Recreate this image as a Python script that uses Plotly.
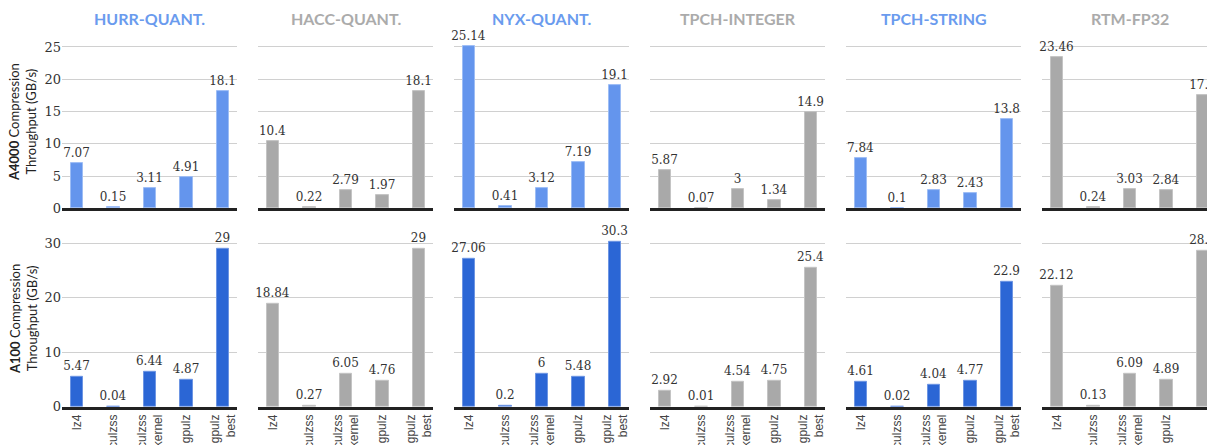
import plotly.graph_objects as go

categories = ["lz4", "culzss", "culzss<br>kernel", "gpulz", "gpulz<br>best"]
datasets = ["HURR-QUANT.", "HACC-QUANT.", "NYX-QUANT.", "TPCH-INTEGER", "TPCH-STRING", "RTM-FP32"]

a4000_hurr = [7.07, 0.15, 3.11, 4.91, 18.1]
a4000_hacc = [10.4, 0.22, 2.79, 1.97, 18.1]
a4000_nyx = [25.14, 0.41, 3.12, 7.19, 19.1]
a4000_tpch_int = [5.87, 0.07, 3, 1.34, 14.9]
a4000_tpch_str = [7.84, 0.1, 2.83, 2.43, 13.8]
a4000_rtm = [23.46, 0.24, 3.03, 2.84, 17.5]

a100_hurr = [5.47, 0.04, 6.44, 4.87, 29]
a100_hacc = [18.84, 0.27, 6.05, 4.76, 29]
a100_nyx = [27.06, 0.2, 6, 5.48, 30.3]
a100_tpch_int = [2.92, 0.01, 4.54, 4.75, 25.4]
a100_tpch_str = [4.61, 0.02, 4.04, 4.77, 22.9]
a100_rtm = [22.12, 0.13, 6.09, 4.89, 28.6]

a4000_rows = [a4000_hurr, a4000_hacc, a4000_nyx, a4000_tpch_int, a4000_tpch_str, a4000_rtm]
a100_rows = [a100_hurr, a100_hacc, a100_nyx, a100_tpch_int, a100_tpch_str, a100_rtm]

W, H = 1207, 445
BLUE_TOP = "#6495ED"
BLUE_BOT = "#2B66D5"
GRAY = "#A9A9A9"
TITLE_BLUE = "#6A9BEE"
TITLE_GRAY = "#ABABAB"

col_starts = [62, 258, 454, 650, 846, 1042]
col_w = 175
unit = 36.5
x_left = -15 / unit

row_defs = [
    dict(y0=208.3, per=32.26 / 5, rmax=27.0, dtick=5, vals=a4000_rows, color=BLUE_TOP,
         title="<b>A4000</b> Compression<br>Throughput (GB/s)", tcy=122),
    dict(y0=406.8, per=54.6 / 10, rmax=32.6, dtick=10, vals=a100_rows, color=BLUE_BOT,
         title="<b>A100</b> Compression<br>Throughput (GB/s)", tcy=319),
]

fig = go.Figure()
layout = {}
annotations = []
k = 0
for r, rd in enumerate(row_defs):
    top_px = rd["y0"] - rd["rmax"] * rd["per"]
    ydom = [1 - rd["y0"] / H, 1 - top_px / H]
    for c in range(6):
        k += 1
        xa = "x" if k == 1 else f"x{k}"
        ya = "y" if k == 1 else f"y{k}"
        start = col_starts[c]
        end = min(start + col_w, W)
        xr = [x_left, x_left + (end - start) / unit]
        color = rd["color"] if c % 2 == 0 else GRAY
        line_color = "#9dbdf5" if (c % 2 == 0 and r == 0) else ("#6d95e3" if c % 2 == 0 else "#c4c4c4")
        vals = rd["vals"][c]
        fig.add_trace(go.Bar(
            x=list(range(len(categories))), y=vals,
            xaxis=xa, yaxis=ya,
            marker=dict(color=color, line=dict(color=line_color, width=1)),
            width=0.33,
            text=[f"{v:g}" for v in vals],
            textposition="outside",
            constraintext="none",
            cliponaxis=False,
            textfont=dict(family="DejaVu Serif", size=12, color="#333333"),
            showlegend=False,
            hoverinfo="skip",
        ))
        layout["xaxis" if k == 1 else f"xaxis{k}"] = dict(
            domain=[start / W, end / W], range=xr, anchor=ya,
            tickmode="array", tickvals=list(range(len(categories))),
            ticktext=categories, showticklabels=(r == 1),
            tickangle=-90, ticks="", showgrid=False, zeroline=False,
            showline=True, linecolor="#222222", linewidth=3,
            tickfont=dict(family="Liberation Sans", size=12, color="#444444"),
            automargin=False, fixedrange=True,
        )
        layout["yaxis" if k == 1 else f"yaxis{k}"] = dict(
            domain=ydom, range=[0, rd["rmax"]], anchor=xa,
            tickmode="linear", tick0=0, dtick=rd["dtick"],
            showticklabels=(c == 0), ticks="",
            showgrid=True, gridcolor="#D0D0D0", gridwidth=1.2,
            zeroline=False, showline=False,
            tickfont=dict(family="DejaVu Serif", size=13, color="#333333"),
            automargin=False, fixedrange=True,
        )
    annotations.append(dict(
        text=rd["title"], x=23 / W, y=1 - rd["tcy"] / H, xref="paper", yref="paper",
        xanchor="center", yanchor="middle", textangle=-90, showarrow=False,
        font=dict(family="Lato", size=13, color="#222222"),
    ))

for c, name in enumerate(datasets):
    cx = (col_starts[c] + col_w / 2) / W
    annotations.append(dict(
        text=f"<b>{name}</b>", x=cx, y=1 - 18 / H, xref="paper", yref="paper",
        xanchor="center", yanchor="middle", showarrow=False,
        font=dict(family="Lato", size=16, color=TITLE_BLUE if c % 2 == 0 else TITLE_GRAY),
    ))

fig.update_layout(
    width=W, height=H,
    margin=dict(l=0, r=0, t=0, b=0),
    paper_bgcolor="white", plot_bgcolor="white",
    bargap=0, annotations=annotations,
    **layout,
)

fig.write_html("out.html")
